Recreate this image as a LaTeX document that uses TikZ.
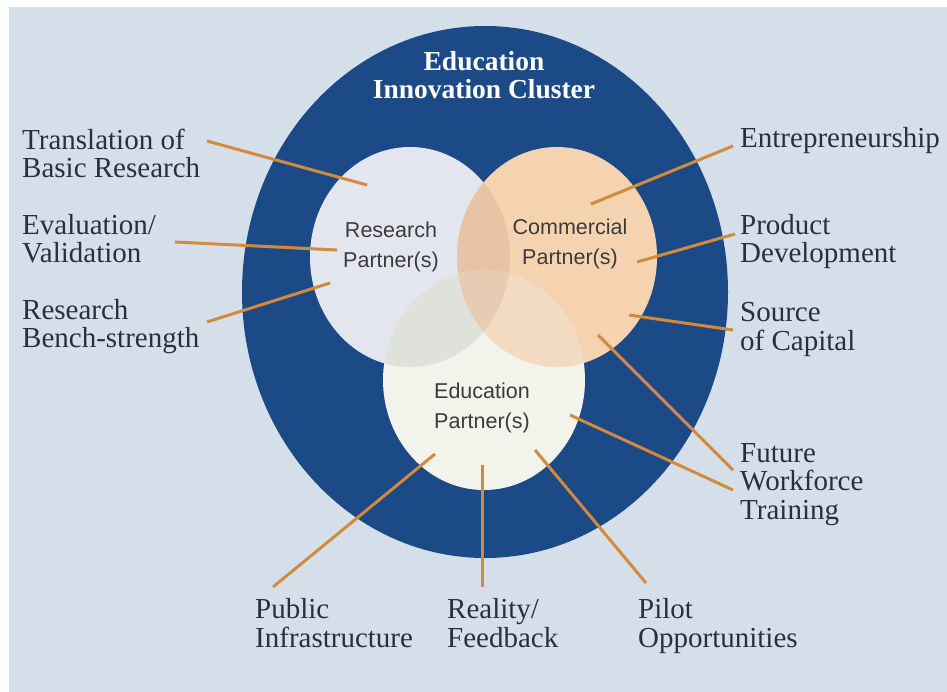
\documentclass[tikz,border=0pt]{standalone}
\usepackage{fontspec}
\setmainfont{Liberation Serif}
\newfontfamily\circfont{Liberation Sans}
\definecolor{bgc}{HTML}{D5DFE9}
\definecolor{ringc}{HTML}{1C4A86}
\definecolor{labeltext}{HTML}{2B2F3A}
\definecolor{circtext}{HTML}{3B3B3B}
\definecolor{linkc}{HTML}{D38A3E}
\definecolor{rcol}{HTML}{E3E6EF}
\definecolor{ccol}{HTML}{F6D3B0}
\definecolor{ecol}{HTML}{F2F3EB}
\definecolor{rccol}{HTML}{E8C4A6}
\definecolor{recol}{HTML}{DFE2DA}
\definecolor{cecol}{HTML}{F2DBC0}
\definecolor{rcecol}{HTML}{E7CCB3}
\begin{document}
\begin{tikzpicture}[x=1pt,y=-1pt,
  lbl/.style={anchor=base west, align=left, font=\fontsize{29}{28.5}\selectfont, text=labeltext, inner sep=0pt},
  ctext/.style={anchor=base, align=center, font=\circfont\fontsize{21.5}{30}\selectfont, text=circtext, inner sep=0pt},
  titletext/.style={anchor=base, align=center, font=\bfseries\fontsize{27.5}{28}\selectfont, text=white, inner sep=0pt},
  link/.style={draw=linkc, line width=3pt}]
\useasboundingbox (0,0) rectangle (947,692);
\fill[white] (0,0) rectangle (947,692);
\fill[bgc] (9,7) rectangle (947,692);
% outer ring
\fill[ringc] (485,292) ellipse [x radius=243pt, y radius=266pt];
\def\Rpath{(410,257) ellipse [x radius=100pt, y radius=110pt]}
\def\Cpath{(557,257) ellipse [x radius=100pt, y radius=110pt]}
\def\Epath{(484,380) ellipse [x radius=101pt, y radius=110pt]}
\fill[rcol] \Rpath;
\fill[ccol] \Cpath;
\fill[ecol] \Epath;
\begin{scope}\clip \Rpath; \fill[rccol] \Cpath; \end{scope}
\begin{scope}\clip \Rpath; \fill[recol] \Epath; \end{scope}
\begin{scope}\clip \Cpath; \fill[cecol] \Epath; \end{scope}
\begin{scope}\clip \Rpath; \clip \Cpath; \fill[rcecol] \Epath; \end{scope}
% title (anchor = baseline of last line)
\node[titletext] (title) at (484,99) {Education\\Innovation Cluster};
% circle texts
\node[ctext] (rp) at (391,268) {Research\\Partner(s)};
\node[ctext] (cp) at (570,265) {Commercial\\Partner(s)};
\node[ctext] (ep) at (482,428) {Education\\Partner(s)};
% labels
\node[lbl] (tr) at (22,178) {Translation of\\Basic Research};
\node[lbl] (ev) at (22,263) {Evaluation/\\Validation};
\node[lbl] (rb) at (22,348) {Research\\Bench-strength};
\node[lbl] (en) at (740,148) {Entrepreneurship};
\node[lbl] (pd) at (740,263) {Product\\Development};
\node[lbl] (sc) at (740,350) {Source\\of Capital};
\node[lbl] (fw) at (740,519) {Future\\Workforce\\Training};
\node[lbl] (pi) at (255,647) {Public\\Infrastructure};
\node[lbl] (rf) at (447,647) {Reality/\\Feedback};
\node[lbl] (po) at (638,647) {Pilot\\Opportunities};
% connector ends
\coordinate (trA) at (207,141); \coordinate (trB) at (367,185);
\coordinate (evA) at (175,242); \coordinate (evB) at (337,250);
\coordinate (rbA) at (207,322); \coordinate (rbB) at (330,283);
\coordinate (enA) at (733,146); \coordinate (enB) at (591,204);
\coordinate (pdA) at (735,234); \coordinate (pdB) at (637,262);
\coordinate (scA) at (733,330); \coordinate (scB) at (629,315);
\coordinate (fwA) at (733,470); \coordinate (fwB) at (598,335);
\coordinate (fwC) at (733,490); \coordinate (fwD) at (570,415);
\coordinate (piA) at (273,587); \coordinate (piB) at (435,454);
\coordinate (rfA) at (482,587); \coordinate (rfB) at (482,465);
\coordinate (poA) at (646,583); \coordinate (poB) at (535,450);
\draw[link] (trA) -- (trB);
\draw[link] (evA) -- (evB);
\draw[link] (rbA) -- (rbB);
\draw[link] (enA) -- (enB);
\draw[link] (pdA) -- (pdB);
\draw[link] (scA) -- (scB);
\draw[link] (fwA) -- (fwB);
\draw[link] (fwC) -- (fwD);
\draw[link] (piA) -- (piB);
\draw[link] (rfA) -- (rfB);
\draw[link] (poA) -- (poB);
\end{tikzpicture}
\end{document}
